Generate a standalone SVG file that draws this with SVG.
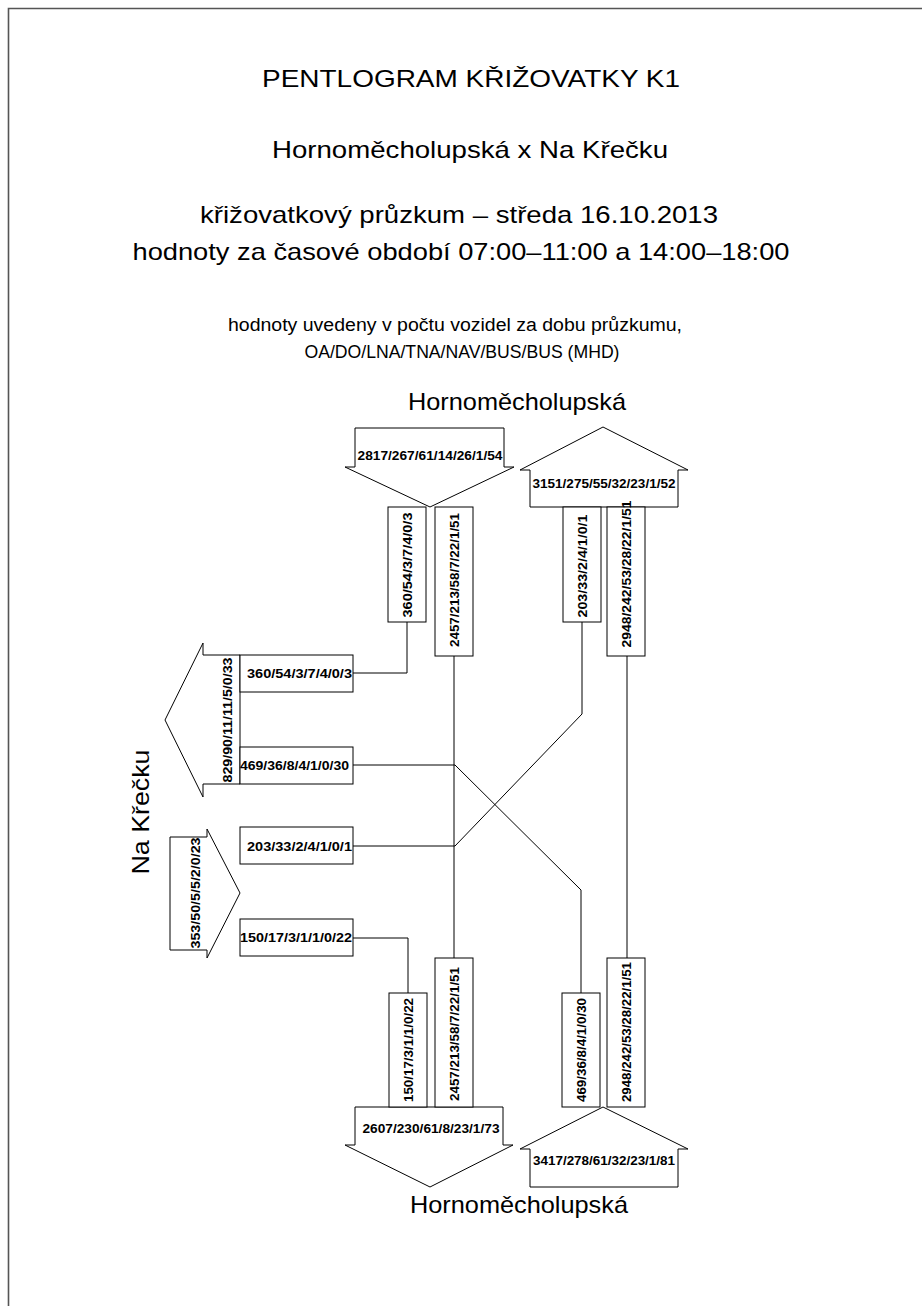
<svg xmlns="http://www.w3.org/2000/svg" width="922" height="1306" viewBox="0 0 922 1306">
<style>
.big{font-family:"Liberation Sans",Arial,sans-serif;font-size:24px;fill:#000;text-anchor:middle}
.mid{font-family:"Liberation Sans",Arial,sans-serif;font-size:18px;fill:#000;text-anchor:middle}
.num{font-family:"Liberation Sans",Arial,sans-serif;font-size:13px;font-weight:bold;fill:#000;text-anchor:middle;dominant-baseline:central}
.sh{fill:#fff;stroke:#000;stroke-width:1}
.ln{fill:none;stroke:#000;stroke-width:1}
</style>
<rect width="922" height="1306" fill="#fff"/>
<path d="M8.5 1306 V8.5 H922" fill="none" stroke="#555" stroke-width="1.6"/>
<g id="titles">
<text class="big" x="471" y="87" textLength="418" lengthAdjust="spacingAndGlyphs">PENTLOGRAM KŘIŽOVATKY K1</text>
<text class="big" x="470" y="158" textLength="396" lengthAdjust="spacingAndGlyphs">Hornoměcholupská x Na Křečku</text>
<text class="big" x="459" y="223" textLength="518" lengthAdjust="spacingAndGlyphs">křižovatkový průzkum – středa 16.10.2013</text>
<text class="big" x="461" y="260" textLength="657" lengthAdjust="spacingAndGlyphs">hodnoty za časové období 07:00–11:00 a 14:00–18:00</text>
<text class="mid" x="455" y="331" textLength="454" lengthAdjust="spacingAndGlyphs">hodnoty uvedeny v počtu vozidel za dobu průzkumu,</text>
<text class="mid" x="462" y="358" textLength="315" lengthAdjust="spacingAndGlyphs">OA/DO/LNA/TNA/NAV/BUS/BUS (MHD)</text>
<text class="big" x="517" y="410" textLength="218" lengthAdjust="spacingAndGlyphs">Hornoměcholupská</text>
<text class="big" x="519" y="1213" textLength="218" lengthAdjust="spacingAndGlyphs">Hornoměcholupská</text>
<text class="big" x="149" y="812" transform="rotate(-90 149 812)" textLength="125" lengthAdjust="spacingAndGlyphs">Na Křečku</text>
</g>
<g id="connectors">
<polyline class="ln" points="407,622 407,673 353,673"/>
<polyline class="ln" points="454,656 454,958"/>
<polyline class="ln" points="582,622 582,714 455,846 353,846"/>
<polyline class="ln" points="627,656 627,958"/>
<polyline class="ln" points="353,765 455,765 581,890 581,993"/>
<polyline class="ln" points="353,938 408,938 408,993"/>
</g>
<g id="arrow-north-in">
<polygon class="sh" points="355,428 504,428 504,467 514,467 430,507 345,467 355,467"/>
<text class="num" x="430" y="455" textLength="145" lengthAdjust="spacingAndGlyphs">2817/267/61/14/26/1/54</text>
</g>
<g id="arrow-north-out">
<polygon class="sh" points="603,427 688,470 678,470 678,507 530,507 530,470 520,470"/>
<text class="num" x="604" y="483" textLength="143" lengthAdjust="spacingAndGlyphs">3151/275/55/32/23/1/52</text>
</g>
<g id="arrow-west-out">
<polygon class="sh" points="240,655 203,655 203,643 165,720 203,797 203,784 240,784"/>
<text class="num" x="227" y="720" transform="rotate(-90 227 720)" textLength="125" lengthAdjust="spacingAndGlyphs">829/90/11/11/5/0/33</text>
</g>
<g id="arrow-west-in">
<polygon class="sh" points="170,837 207,837 207,829 240,893 207,958 207,950 170,950"/>
<text class="num" x="195" y="893" transform="rotate(-90 195 893)" textLength="111" lengthAdjust="spacingAndGlyphs">353/50/5/5/2/0/23</text>
</g>
<g id="arrow-south-out">
<polygon class="sh" points="355,1107 503,1107 503,1145 513,1145 430,1187 345,1145 355,1145"/>
<text class="num" x="431" y="1128" textLength="137" lengthAdjust="spacingAndGlyphs">2607/230/61/8/23/1/73</text>
</g>
<g id="arrow-south-in">
<polygon class="sh" points="603,1107 688,1149 678,1149 678,1187 530,1187 530,1149 520,1149"/>
<text class="num" x="604" y="1160" textLength="142" lengthAdjust="spacingAndGlyphs">3417/278/61/32/23/1/81</text>
</g>
<g id="box-n-left">
<rect class="sh" x="388" y="507" width="38" height="115"/>
<text class="num" x="407" y="565" transform="rotate(-90 407 565)" textLength="105" lengthAdjust="spacingAndGlyphs">360/54/3/7/4/0/3</text>
</g>
<g id="box-n-straight">
<rect class="sh" x="435" y="507" width="38" height="149"/>
<text class="num" x="454" y="580" transform="rotate(-90 454 580)" textLength="134" lengthAdjust="spacingAndGlyphs">2457/213/58/7/22/1/51</text>
</g>
<g id="box-n-out-west">
<rect class="sh" x="563" y="507" width="38" height="115"/>
<text class="num" x="582" y="566" transform="rotate(-90 582 566)" textLength="103" lengthAdjust="spacingAndGlyphs">203/33/2/4/1/0/1</text>
</g>
<g id="box-n-out-south">
<rect class="sh" x="607" y="507" width="38" height="149"/>
<text class="num" x="626" y="574" transform="rotate(-90 626 574)" textLength="147" lengthAdjust="spacingAndGlyphs">2948/242/53/28/22/1/51</text>
</g>
<g id="box-w-out-north">
<rect class="sh" x="240" y="655" width="113" height="37"/>
<text class="num" x="299.5" y="673" textLength="105" lengthAdjust="spacingAndGlyphs">360/54/3/7/4/0/3</text>
</g>
<g id="box-w-out-south">
<rect class="sh" x="240" y="747" width="113" height="37"/>
<text class="num" x="294.5" y="765" textLength="109" lengthAdjust="spacingAndGlyphs">469/36/8/4/1/0/30</text>
</g>
<g id="box-w-in-north">
<rect class="sh" x="240" y="827" width="113" height="37"/>
<text class="num" x="299.5" y="846" textLength="105" lengthAdjust="spacingAndGlyphs">203/33/2/4/1/0/1</text>
</g>
<g id="box-w-in-south">
<rect class="sh" x="240" y="919" width="113" height="37"/>
<text class="num" x="296" y="937" textLength="112" lengthAdjust="spacingAndGlyphs">150/17/3/1/1/0/22</text>
</g>
<g id="box-s-out-west">
<rect class="sh" x="389" y="993" width="38" height="114"/>
<text class="num" x="408" y="1050" transform="rotate(-90 408 1050)" textLength="104" lengthAdjust="spacingAndGlyphs">150/17/3/1/1/0/22</text>
</g>
<g id="box-s-out-straight">
<rect class="sh" x="435" y="958" width="38" height="149"/>
<text class="num" x="454" y="1034" transform="rotate(-90 454 1034)" textLength="134" lengthAdjust="spacingAndGlyphs">2457/213/58/7/22/1/51</text>
</g>
<g id="box-s-in-west">
<rect class="sh" x="562" y="993" width="38" height="114"/>
<text class="num" x="581" y="1050" transform="rotate(-90 581 1050)" textLength="104" lengthAdjust="spacingAndGlyphs">469/36/8/4/1/0/30</text>
</g>
<g id="box-s-in-straight">
<rect class="sh" x="607" y="958" width="38" height="149"/>
<text class="num" x="626" y="1032" transform="rotate(-90 626 1032)" textLength="140" lengthAdjust="spacingAndGlyphs">2948/242/53/28/22/1/51</text>
</g>
</svg>
